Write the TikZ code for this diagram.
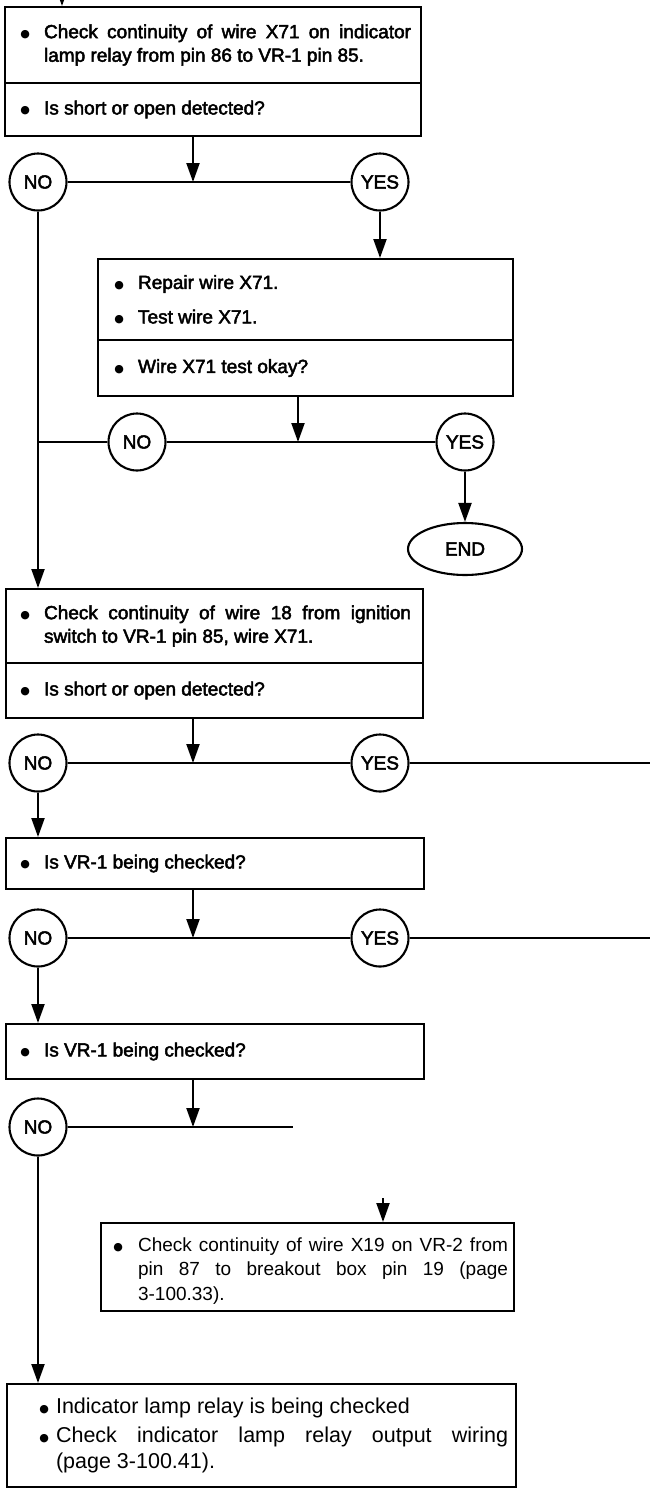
\documentclass[tikz,border=0pt]{standalone}
\usepackage{fontspec}
\setmainfont{Liberation Sans}
\newfontfamily\heavy{Liberation Sans}[FakeBold=2.5]
\newfontfamily\dv{DejaVu Sans}
\usetikzlibrary{arrows.meta,shapes.geometric}
\tolerance=9999
\hyphenpenalty=10000
\hbadness=10000
% #1 width, #2 left margin, #3 right margin, #4 content
\newcommand{\bt}[4]{\parbox{#1}{\tolerance=9999\hyphenpenalty=10000\hbadness=10000\parindent=0pt\leftskip=#2\relax\rightskip=#3\relax\parfillskip=0pt plus 1fil\relax #4}}
\newcommand{\bu}[1]{\noindent\llap{\raisebox{0.8pt}{\dv\fontsize{11}{11}\selectfont ●}\hspace{#1}}}
\begin{document}
\begin{tikzpicture}[x=1pt,y=-1pt,
  lw/.style={line width=2.1pt},
  arr/.style={lw,-{Triangle[length=19pt,width=13pt]}},
  bx/.style={draw, lw, rectangle, anchor=north west, inner sep=0pt},
  up/.style={font=\heavy\fontsize{19}{23.5}\selectfont},
  lo/.style={font=\fontsize{19}{24.5}\selectfont},
  lo2/.style={font=\fontsize{21.5}{26}\selectfont},
  circ/.style={draw, lw, circle, minimum size=57pt, inner sep=0pt, font=\heavy\fontsize{19}{19}\selectfont},
  endnode/.style={draw, lw, ellipse, minimum width=114pt, minimum height=52pt, inner sep=0pt, font=\heavy\fontsize{19}{19}\selectfont}]
\useasboundingbox (0,0) rectangle (649,1489);

% Box 1
\node[bx, up, minimum width=416pt, minimum height=76pt] (b1a) at (4,6)
  {\bt{416pt}{39pt}{10pt}{\bu{14pt}Check continuity of wire X71 on indicator\linebreak lamp relay from pin 86 to VR-1 pin 85.}};
\node[bx, up, minimum width=416pt, minimum height=53pt] (b1b) at (4,82)
  {\bt{416pt}{39pt}{10pt}{\bu{14pt}Is short or open detected?}};

% Row 1
\node[circ] (no1) at (38,182) {NO};
\node[circ] (yes1) at (380,182) {YES};
\coordinate (j1) at (193,182);

% Box 2
\node[bx, up, minimum width=415pt, minimum height=81pt] (b2a) at (97,258)
  {\bt{415pt}{40pt}{10pt}{\bu{14pt}Repair wire X71.\par\vspace{11pt}\bu{14pt}Test wire X71.}};
\node[bx, up, minimum width=415pt, minimum height=56pt] (b2b) at (97,339)
  {\bt{415pt}{40pt}{10pt}{\bu{14pt}Wire X71 test okay?}};

% Row 2
\node[circ] (no2) at (137,442) {NO};
\node[circ] (yes2) at (465,442) {YES};
\coordinate (j2) at (298,442);
\node[endnode] (end) at (465,549) {END};

% Box 3
\node[bx, up, minimum width=417pt, minimum height=74pt] (b3a) at (5,588)
  {\bt{417pt}{38pt}{12pt}{\bu{14pt}Check continuity of wire 18 from ignition\linebreak switch to VR-1 pin 85, wire X71.}};
\node[bx, up, minimum width=417pt, minimum height=55pt] (b3b) at (5,662)
  {\bt{417pt}{38pt}{12pt}{\bu{14pt}Is short or open detected?}};

% Row 3
\node[circ] (no3) at (38,763) {NO};
\node[circ] (yes3) at (380,763) {YES};
\coordinate (j3) at (193,763);

% Box 4
\node[bx, up, minimum width=418pt, minimum height=51pt] (b4) at (5,837)
  {\bt{418pt}{38pt}{12pt}{\bu{14pt}Is VR-1 being checked?}};

% Row 4
\node[circ] (no4) at (38,938) {NO};
\node[circ] (yes4) at (380,938) {YES};
\coordinate (j4) at (193,938);

% Box 5
\node[bx, up, minimum width=418pt, minimum height=55pt] (b5) at (5,1023)
  {\bt{418pt}{38pt}{12pt}{\bu{14pt}Is VR-1 being checked?}};

% Row 5
\node[circ] (no5) at (38,1127) {NO};
\coordinate (j5) at (193,1127);
\coordinate (e5) at (293,1127);

% Box 6
\coordinate (t6) at (383,1198);
\node[bx, lo, minimum width=413pt, minimum height=88pt] (b6) at (100,1222)
  {\bt{413pt}{37pt}{6pt}{\vspace*{8pt}\bu{15pt}Check continuity of wire X19 on VR-2 from\linebreak pin 87 to breakout box pin 19 (page\linebreak 3-100.33).}};

% Box 7
\node[bx, lo2, minimum width=509pt, minimum height=103pt] (b7) at (6,1383)
  {\bt{509pt}{49pt}{8pt}{\bu{7pt}Indicator lamp relay is being checked\par\vspace{3pt}\bu{7pt}Check indicator lamp relay output wiring\linebreak (page 3-100.41).}};

% edge coordinates
\coordinate (rE) at (660,0);
\coordinate (t0) at (62,-25);

% Connectors
\draw[arr] (t0) -- (t0 |- b1a.north);
\draw[arr] (j1 |- b1b.south) -- (j1);
\draw[lw] (no1) -- (yes1);
\draw[arr] (yes1) -- (yes1 |- b2a.north);
\draw[arr] (no1) -- (no1 |- b3a.north);

\draw[arr] (j2 |- b2b.south) -- (j2);
\draw[lw] (no1 |- no2) -- (no2);
\draw[lw] (no2) -- (yes2);
\draw[arr] (yes2) -- (end);

\draw[arr] (j3 |- b3b.south) -- (j3);
\draw[lw] (no3) -- (yes3);
\draw[lw] (yes3) -- (yes3 -| rE);
\draw[arr] (no3) -- (no3 |- b4.north);

\draw[arr] (j4 |- b4.south) -- (j4);
\draw[lw] (no4) -- (yes4);
\draw[lw] (yes4) -- (yes4 -| rE);
\draw[arr] (no4) -- (no4 |- b5.north);

\draw[arr] (j5 |- b5.south) -- (j5);
\draw[lw] (no5) -- (e5);
\draw[arr] (t6) -- (t6 |- b6.north);
\draw[arr] (no5) -- (no5 |- b7.north);
\end{tikzpicture}
\end{document}
